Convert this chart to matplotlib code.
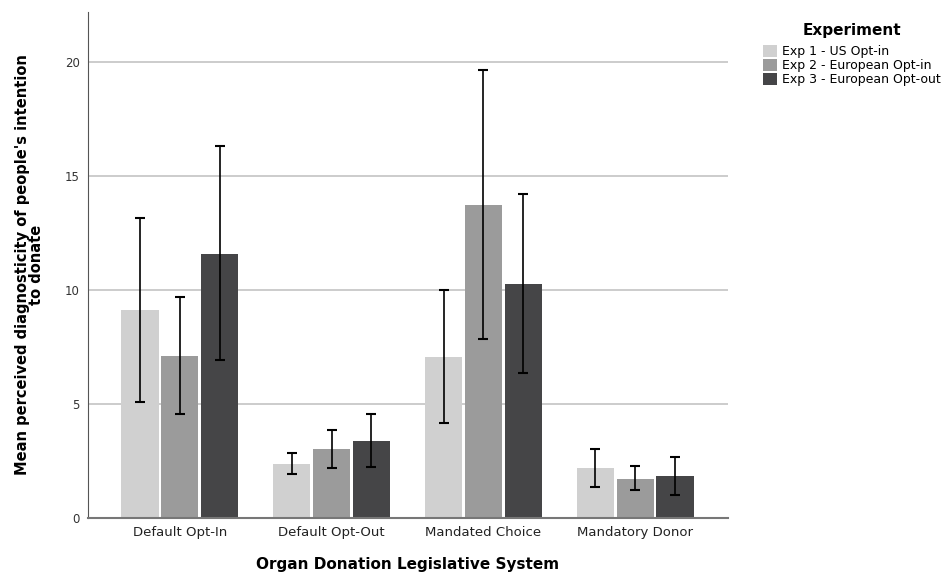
import numpy as np
import matplotlib.pyplot as plt
from matplotlib.patches import Patch

# Means and 95% CI bounds per legislative system
systems = ["Default Opt-In", "Default Opt-Out", "Mandated Choice", "Mandatory Donor"]
experiments = ["Exp 1 - US Opt-in", "Exp 2 - European Opt-in", "Exp 3 - European Opt-out"]

exp1_mean = [9.13, 2.37, 7.06, 2.18]
exp1_hi = [13.17, 2.86, 9.99, 3.04]
exp1_lo = [5.09, 1.95, 4.17, 1.35]

exp2_mean = [7.09, 3.02, 13.73, 1.72]
exp2_hi = [9.69, 3.85, 19.65, 2.27]
exp2_lo = [4.54, 2.19, 7.83, 1.22]

exp3_mean = [11.60, 3.37, 10.26, 1.83]
exp3_hi = [16.33, 4.54, 14.20, 2.69]
exp3_lo = [6.91, 2.22, 6.36, 1.01]

colors = ["#d0d0d0", "#9b9b9b", "#454547"]

fig = plt.figure(figsize=(9.41, 5.77), dpi=100)
ax = fig.add_axes([0.0935, 0.1023, 0.68, 0.877])

x = np.arange(len(systems))
step = 0.262
width = 0.245
series = [(exp1_mean, exp1_lo, exp1_hi), (exp2_mean, exp2_lo, exp2_hi), (exp3_mean, exp3_lo, exp3_hi)]

for i, (m, lo, hi) in enumerate(series):
    pos = x + (i - 1) * step
    m = np.array(m)
    err = [m - np.array(lo), np.array(hi) - m]
    ax.bar(pos, m, width=width, color=colors[i], edgecolor="none", zorder=2)
    ax.errorbar(pos, m, yerr=err, fmt="none", ecolor="black", elinewidth=1.2,
                capsize=3.5, capthick=1.5, zorder=3)

ax.set_xlim(-0.605, 3.61)
ax.set_ylim(0, 22.2)
ax.set_yticks([0, 5, 10, 15, 20])
ax.yaxis.grid(True, color="#c4c4c4", linewidth=1.2, zorder=0)
ax.set_axisbelow(True)

ax.set_xticks(x)
ax.set_xticklabels(systems, fontsize=9.5, color="#222222")
ax.tick_params(axis="both", length=0, pad=6)
ax.tick_params(axis="y", labelsize=8.5, labelcolor="#333333")

for s in ["top", "right"]:
    ax.spines[s].set_visible(False)
ax.spines["left"].set_color("#555555")
ax.spines["bottom"].set_color("#777777")
ax.spines["bottom"].set_linewidth(1.5)

ax.set_ylabel("Mean perceived diagnosticity of people's intention\nto donate",
              fontsize=10.5, fontweight="bold", linespacing=0.95, labelpad=15)
ax.set_xlabel("Organ Donation Legislative System", fontsize=11, fontweight="bold",
              labelpad=13)

handles = [Patch(facecolor=c, edgecolor="none") for c in colors]
leg = fig.legend(handles, experiments, loc="upper left", bbox_to_anchor=(0.802, 0.975),
                 frameon=False, title="Experiment", fontsize=9,
                 title_fontproperties={"weight": "bold", "size": 11},
                 handlelength=1.1, handleheight=1.1, handletextpad=0.4,
                 labelspacing=0.05, borderpad=0.2)
leg._legend_box.sep = 5

fig.savefig("out.png", dpi=100)
